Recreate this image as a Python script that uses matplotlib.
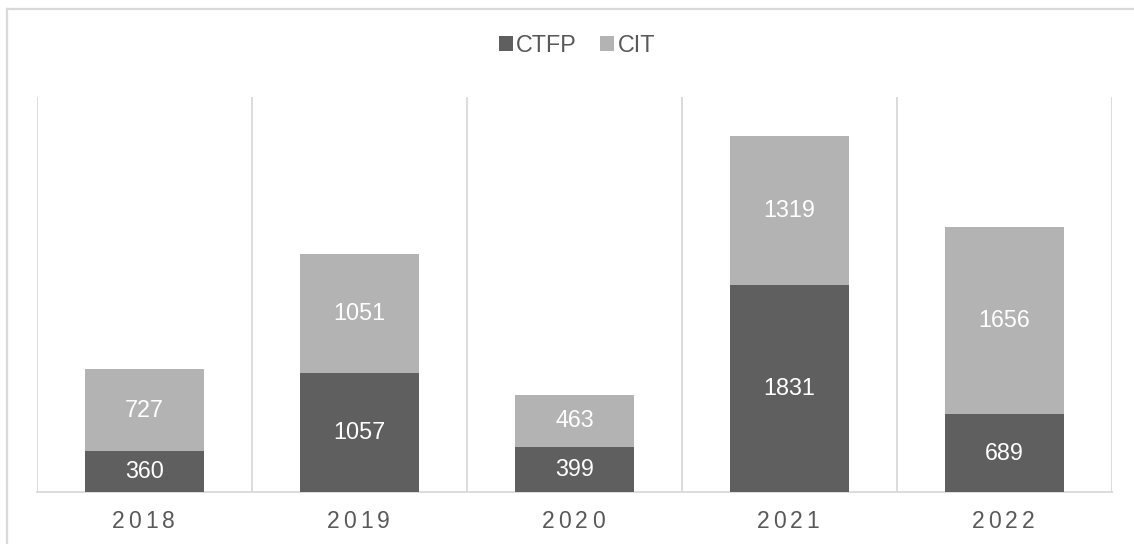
import matplotlib
matplotlib.use("Agg")
import matplotlib.pyplot as plt
from matplotlib.lines import Line2D
import numpy as np

years = ['2018', '2019', '2020', '2021', '2022']
ctfp = [360, 1057, 399, 1831, 689]
cit = [727, 1051, 463, 1319, 1656]

dark = '#5f5f5f'
light = '#b3b3b3'
grid_c = '#d9d9d9'
text_c = '#595959'

plt.rcParams['font.family'] = ['Liberation Sans', 'DejaVu Sans']

W, H = 1134, 544
fig = plt.figure(figsize=(W / 100, H / 100), dpi=100)
ax = fig.add_axes([37 / W, (H - 492) / H, (1112 - 37) / W, (492 - 97) / H])

x = np.arange(len(years))
bw = 0.558
ax.bar(x, ctfp, bw, color=dark, label='CTFP', zorder=3)
ax.bar(x, cit, bw, bottom=ctfp, color=light, label='CIT', zorder=3)

# value labels
fs = 16.8
for i in range(len(years)):
    ax.text(x[i], ctfp[i] / 2, str(ctfp[i]), ha='center', va='center',
            color='white', fontsize=fs, zorder=4)
    ax.text(x[i], ctfp[i] + cit[i] / 2, str(cit[i]), ha='center', va='center',
            color='white', fontsize=fs, zorder=4)

ax.set_xlim(-0.5, len(years) - 0.5)
ax.set_ylim(0, 3500)

# category separators
for b in np.arange(-0.5, len(years), 1.0):
    ax.axvline(b, color=grid_c, lw=1.3, zorder=1)

for s in ['top', 'left', 'right']:
    ax.spines[s].set_visible(False)
ax.spines['bottom'].set_color(grid_c)
ax.spines['bottom'].set_linewidth(1.3)
ax.set_yticks([])
ax.set_xticks([])

# letter-spaced category labels
step = 12.0
for i, yr in enumerate(years):
    n = len(yr)
    for j, ch in enumerate(yr):
        ax.annotate(ch, xy=(x[i], 0), xycoords=('data', 'axes fraction'),
                    xytext=((j - (n - 1) / 2) * step - 1, -21),
                    textcoords='offset points', ha='center', va='center',
                    fontsize=16.5, color=text_c)

leg = fig.legend(loc='center', bbox_to_anchor=(577 / W, (H - 45) / H), ncol=2,
                 frameon=False, fontsize=fs, handlelength=0.6, handleheight=0.6,
                 handletextpad=0.15, columnspacing=1.0)
for t in leg.get_texts():
    t.set_color(text_c)

# outer chart border (top and left visible)
fig.add_artist(Line2D([6.5 / W, 1.0], [(H - 9) / H, (H - 9) / H],
                      transform=fig.transFigure, color=grid_c, lw=1.6))
fig.add_artist(Line2D([6.5 / W, 6.5 / W], [0, (H - 9) / H],
                      transform=fig.transFigure, color=grid_c, lw=1.6))

fig.savefig('out.png', dpi=100)
